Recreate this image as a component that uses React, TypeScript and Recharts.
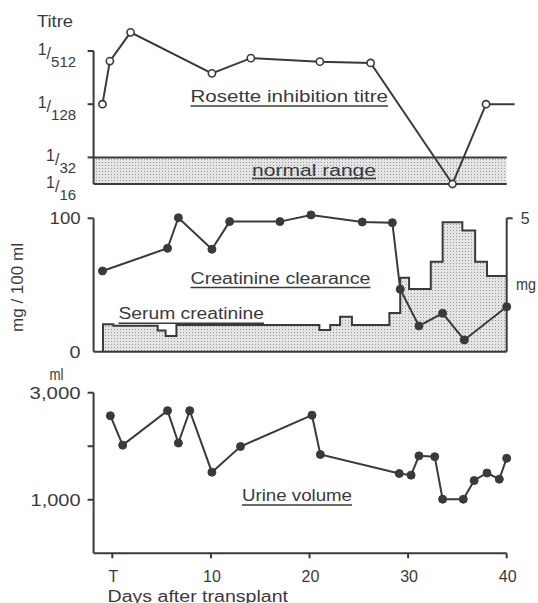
import React from "react";
import {
  LineChart,
  ComposedChart,
  Line,
  Area,
  XAxis,
  YAxis,
  ReferenceArea,
  ReferenceLine,
} from "recharts";

const FONT = "'Liberation Sans', Arial, sans-serif";
const INK = "#3a3a3a";

// rosette inhibition titre, stored as the reciprocal titre (1/x)
const rosetteDays = [-1, -0.25, 1.85, 10.1, 14.05, 21.05, 26.2, 34.5, 37.9, 40.8];
const rosetteTitre = [128, 394, 832, 286, 425, 388, 375, 16, 128, 128];
const titreTicks = [16, 32, 128, 512];

// creatinine clearance, ml/min
const clearanceDays = [-1, 5.6, 6.7, 10.1, 11.9, 17, 20.15, 25.35, 28.4, 29.2, 31.1, 33.5, 35.7, 40];
const clearanceVals = [60.5, 77.5, 100.4, 76.8, 97.5, 97.5, 102.5, 97.2, 96.7, 46.8, 19.3, 28.8, 8.8, 33.7];

// serum creatinine, mg/100 ml (step)
const serumDays = [-0.95, -0.95, 0.1, 4.6, 5.4, 6.5, 21.0, 22.1, 23.1, 24.3, 28.1, 29.2, 30.1, 32.3, 33.5, 35.5, 36.8, 38.0, 40];
const serumVals = [0, 1.03, 0.97, 0.79, 0.59, 1.0, 0.81, 1.0, 1.31, 1.0, 1.45, 2.77, 2.35, 3.37, 4.85, 4.54, 3.37, 2.84, 2.84];

// urine volume, ml
const urineDays = [-0.2, 1.05, 5.6, 6.7, 7.85, 10.1, 13.0, 20.25, 21.1, 29.1, 30.3, 31.1, 32.7, 33.5, 35.6, 36.7, 38.0, 39.25, 40];
const urineVals = [2570, 2020, 2665, 2060, 2665, 1515, 1995, 2580, 1845, 1490, 1460, 1820, 1805, 1010, 1010, 1360, 1500, 1385, 1775];

const dayTicks = [0, 10, 20, 30, 40];
const dayLabels = ["T", "10", "20", "30", "40"];

const rosette = rosetteDays.map((day, i) => ({ day, v: rosetteTitre[i] }));
const clearance = clearanceDays.map((day, i) => ({ day, v: clearanceVals[i] }));
const serum = serumDays.map((day, i) => ({ day, v: serumVals[i] }));
const urine = urineDays.map((day, i) => ({ day, v: urineVals[i] }));

const X0 = -1.9;

function TitreTick(props: any) {
  const { x, y, payload } = props;
  const v = payload.value;
  return (
    <g>
      {v !== 16 && <line x1={x - 6} x2={x} y1={y} y2={y} stroke={INK} strokeWidth={2} />}
      <text x={x - 17.5} y={y} textAnchor="end" fontSize={16} fill={INK} fontFamily={FONT}>
        <tspan dy={4}>1</tspan>
        <tspan dy={4}>/</tspan>
        <tspan dy={8} fontSize={15}>{v}</tspan>
      </text>
    </g>
  );
}

function leftTick(labels: Record<number, string>, fits: Record<number, number>, noMark: number[] = []) {
  return (props: any) => {
    const { x, y, payload } = props;
    const v = payload.value;
    return (
      <g>
        {!noMark.includes(v) && <line x1={x - 6} x2={x} y1={y} y2={y} stroke={INK} strokeWidth={2} />}
        {labels[v] && (
          <text
            x={x - 13}
            y={y + 6}
            textAnchor="end"
            fontSize={16}
            fill={INK}
            fontFamily={FONT}
            textLength={fits[v]}
            lengthAdjust="spacingAndGlyphs"
          >
            {labels[v]}
          </text>
        )}
      </g>
    );
  };
}

function RightTick(props: any) {
  const { x, y } = props;
  return (
    <g>
      <line x1={x} x2={x + 6} y1={y} y2={y} stroke={INK} strokeWidth={2} />
      <text x={x + 14} y={y + 6} fontSize={16} fill={INK} fontFamily={FONT}>
        5
      </text>
    </g>
  );
}

function DayTick(props: any) {
  const { x, y, payload } = props;
  const i = dayTicks.indexOf(payload.value);
  return (
    <g>
      <line x1={x} x2={x} y1={y} y2={y + 5} stroke={INK} strokeWidth={2} />
      <text x={x + 1} y={y + 29} textAnchor="middle" fontSize={16} fill={INK} fontFamily={FONT}>
        {dayLabels[i]}
      </text>
    </g>
  );
}

const openDot = (p: any) =>
  p.index === rosette.length - 1 ? (
    <g key={p.key} />
  ) : (
    <circle key={p.key} cx={p.cx} cy={p.cy} r={3.6} fill="#fff" stroke={INK} strokeWidth={1.6} />
  );

const fullDot = { r: 4, fill: INK, stroke: INK, strokeWidth: 1 };

function Label({ x, y, w, text, under }: { x: number; y: number; w: number; text: string; under?: number }) {
  return (
    <g>
      <text x={x} y={y} fontSize={16} fill={INK} fontFamily={FONT} textLength={w} lengthAdjust="spacingAndGlyphs">
        {text}
      </text>
      {under !== undefined && <line x1={x} x2={x + w} y1={under} y2={under} stroke={INK} strokeWidth={1.5} />}
    </g>
  );
}

export default function App() {
  return (
    <div style={{ position: "absolute", left: 0, top: 0, width: 538, height: 603, background: "#fff", overflow: "hidden" }}>
      <div style={{ position: "absolute", left: 0, top: 0 }}>
        <LineChart width={538} height={210} data={rosette} margin={{ top: 24.4, right: 23.4, bottom: 26, left: 33.6 }}>
          <XAxis dataKey="day" type="number" domain={[X0, 40.8]} hide />
          <YAxis
            scale="log"
            domain={[16, 1024]}
            ticks={titreTicks}
            width={60}
            axisLine={false}
            tickLine={false}
            tickSize={0}
            tickMargin={0}
            tick={TitreTick}
          />
          <ReferenceArea x1={X0} x2={40} y1={16} y2={32} fill="url(#stipple)" fillOpacity={1} stroke="none" />
          <ReferenceLine segment={[{ x: X0, y: 32 }, { x: 40, y: 32 }]} stroke={INK} strokeWidth={2} />
          <ReferenceLine segment={[{ x: X0, y: 16 }, { x: 40, y: 16 }]} stroke={INK} strokeWidth={2} />
          <ReferenceLine segment={[{ x: X0, y: 16 }, { x: X0, y: 512 }]} stroke={INK} strokeWidth={2} />
          <Line dataKey="v" type="linear" stroke={INK} strokeWidth={2} dot={openDot} isAnimationActive={false} />
        </LineChart>
      </div>

      <div style={{ position: "absolute", left: 0, top: 200 }}>
        <ComposedChart width={538} height={170} margin={{ top: 11.6, right: 6.3, bottom: 18.3, left: 33.6 }}>
          <XAxis dataKey="day" type="number" domain={[X0, 40]} hide />
          <YAxis
            yAxisId="left"
            domain={[0, 105]}
            ticks={[0, 100]}
            width={60}
            axisLine={false}
            tickLine={false}
            tickSize={0}
            tickMargin={0}
            tick={leftTick({ 0: "0", 100: "100" }, { 0: 11, 100: 31 }, [0])}
          />
          <YAxis
            yAxisId="right"
            orientation="right"
            domain={[0, 5.25]}
            ticks={[5]}
            width={25}
            axisLine={false}
            tickLine={false}
            tickSize={0}
            tickMargin={0}
            tick={RightTick}
          />
          <Area
            yAxisId="right"
            data={serum}
            dataKey="v"
            type="stepAfter"
            fill="url(#stipple)"
            fillOpacity={1}
            stroke={INK}
            strokeWidth={2}
            dot={false}
            isAnimationActive={false}
          />
          <ReferenceLine yAxisId="left" segment={[{ x: X0, y: 0 }, { x: X0, y: 100 }]} stroke={INK} strokeWidth={2} />
          <ReferenceLine yAxisId="left" segment={[{ x: 40, y: 0 }, { x: 40, y: 100 }]} stroke={INK} strokeWidth={2} />
          <ReferenceLine yAxisId="left" segment={[{ x: X0, y: 0 }, { x: 40, y: 0 }]} stroke={INK} strokeWidth={2} />
          <Line
            yAxisId="left"
            data={clearance}
            dataKey="v"
            type="linear"
            stroke={INK}
            strokeWidth={2}
            dot={fullDot}
            isAnimationActive={false}
          />
        </ComposedChart>
      </div>

      <div style={{ position: "absolute", left: 0, top: 370 }}>
        <LineChart width={538} height={233} data={urine} margin={{ top: 22.7, right: 31.3, bottom: 19.7, left: 33.6 }}>
          <XAxis
            dataKey="day"
            type="number"
            domain={[X0, 40]}
            ticks={dayTicks}
            height={30}
            axisLine={{ stroke: INK, strokeWidth: 2 }}
            tickLine={false}
            tickSize={0}
            tickMargin={0}
            tick={DayTick}
          />
          <YAxis
            domain={[0, 3000]}
            ticks={[1000, 2000, 3000]}
            width={60}
            axisLine={{ stroke: INK, strokeWidth: 2 }}
            tickLine={false}
            tickSize={0}
            tickMargin={0}
            tick={leftTick({ 1000: "1,000", 3000: "3,000" }, { 1000: 50, 3000: 51 })}
          />
          <Line dataKey="v" type="linear" stroke={INK} strokeWidth={2} dot={fullDot} isAnimationActive={false} />
        </LineChart>
      </div>

      <svg width={538} height={603} style={{ position: "absolute", left: 0, top: 0, pointerEvents: "none" }}>
        <defs>
          <pattern id="stipple" width={3} height={3} patternUnits="userSpaceOnUse">
            <rect width={3} height={3} fill="#e4e4e4" />
            <rect width={1} height={1} fill="#9a9a9a" />
          </pattern>
        </defs>
        <Label x={37} y={27} w={36} text="Titre" />
        <Label x={190.5} y={102} w={197.5} text="Rosette inhibition titre" under={106} />
        <Label x={252} y={176} w={124} text="normal range" under={178.5} />
        <Label x={190.5} y={284} w={180} text="Creatinine clearance" under={287.5} />
        <Label x={118.5} y={319.3} w={145.5} text="Serum creatinine" under={323.3} />
        <Label x={242} y={501} w={110} text="Urine volume" under={505} />
        <Label x={49.5} y={380} w={14} text="ml" />
        <Label x={516} y={290} w={20} text="mg" />
        <text
          x={23}
          y={287.5}
          transform="rotate(-90 23 287.5)"
          textAnchor="middle"
          fontSize={16}
          fill={INK}
          fontFamily={FONT}
          textLength={89}
          lengthAdjust="spacingAndGlyphs"
        >
          mg / 100 ml
        </text>
        <Label x={107.5} y={601.5} w={180.5} text="Days after transplant" />
      </svg>
    </div>
  );
}
